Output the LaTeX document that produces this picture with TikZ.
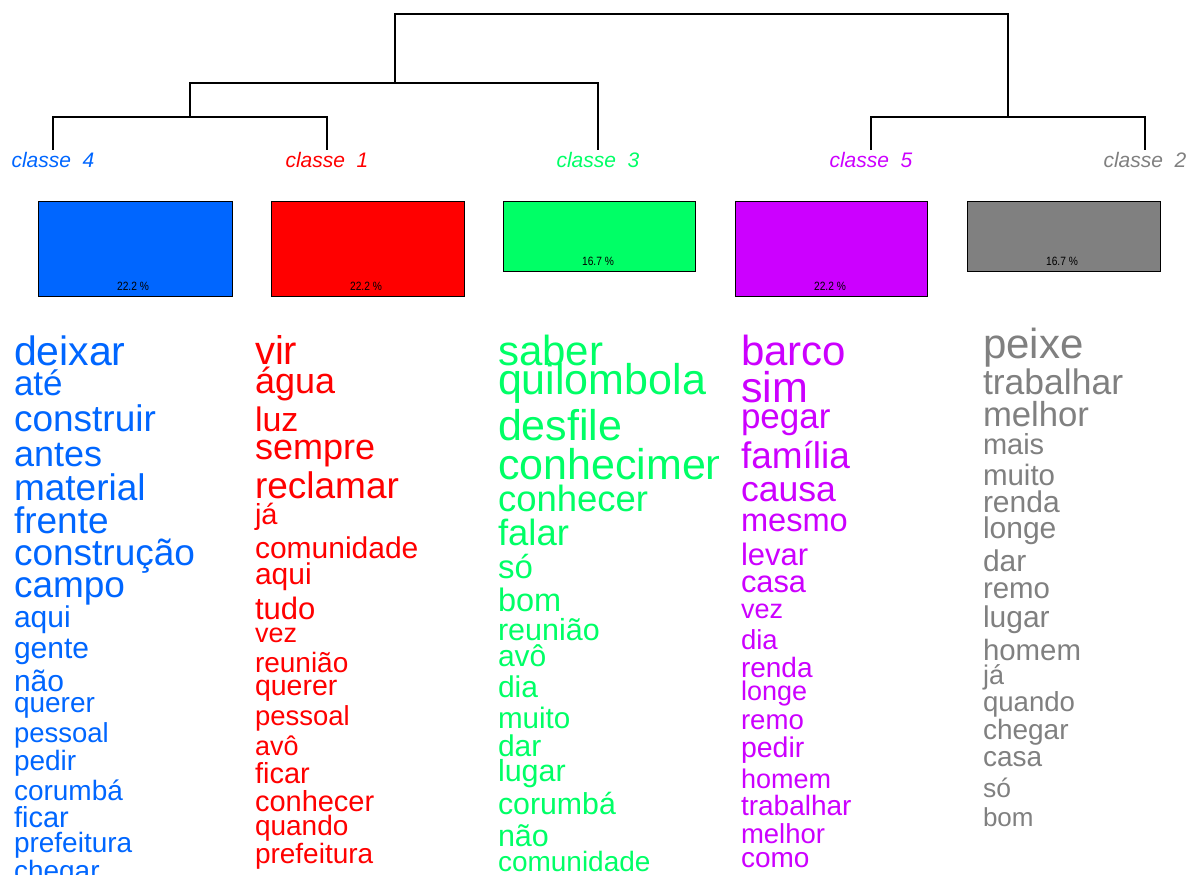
\documentclass[tikz,border=0pt]{standalone}
\usepackage{fontspec}
\setmainfont{Liberation Sans}
\definecolor{cblue}{HTML}{0066FF}
\definecolor{cred}{HTML}{FF0000}
\definecolor{cgreen}{HTML}{00FF66}
\definecolor{cpurple}{HTML}{CC00FF}
\definecolor{cgray}{HTML}{808080}
\newcommand{\fs}[1]{\fontsize{#1pt}{#1pt}\selectfont}
\tikzset{
  word/.style={anchor=base west, inner sep=0pt, outer sep=0pt},
  clslabel/.style={anchor=base, inner sep=0pt, font=\fs{21}\itshape},
  clsbox/.style={draw=black, line width=1.3pt, anchor=north west, inner sep=0pt},
  pct/.style={anchor=base, inner sep=0pt, font=\fs{12}, text=black, xscale=0.85},
  dendro/.style={draw=black, line width=1.3pt}
}
\begin{document}
\begin{tikzpicture}[x=1pt,y=-1pt]
\useasboundingbox (0,0) rectangle (1187,875);
\clip (0,0) rectangle (1187,875);
% dendrogram coordinates
\coordinate (top) at (395,14);
\coordinate (topR) at (1008,14);
\coordinate (l2L) at (190,83);
\coordinate (l2R) at (598,83);
\coordinate (l2M) at (395,83);
\coordinate (l3L) at (53,117);
\coordinate (l3R) at (327,117);
\coordinate (l3M) at (190,117);
\coordinate (r3L) at (871,117);
\coordinate (r3R) at (1145,117);
\coordinate (r3M) at (1008,117);
\coordinate (e4) at (53,150);
\coordinate (e1) at (327,150);
\coordinate (e3) at (598,150);
\coordinate (e5) at (871,150);
\coordinate (e2) at (1145,150);
\draw[dendro] (l2M) -- (top) -- (topR) -- (r3M);
\draw[dendro] (l3M) -- (l2L) -- (l2R) -- (e3);
\draw[dendro] (e4) -- (l3L) -- (l3R) -- (e1);
\draw[dendro] (e5) -- (r3L) -- (r3R) -- (e2);
% class labels
\node[clslabel, text=cblue] (lab4) at (53,167) {classe\ \ 4};
\node[clslabel, text=cred] (lab1) at (327,167) {classe\ \ 1};
\node[clslabel, text=cgreen] (lab3) at (598,167) {classe\ \ 3};
\node[clslabel, text=cpurple] (lab5) at (871,167) {classe\ \ 5};
\node[clslabel, text=cgray] (lab2) at (1145,167) {classe\ \ 2};
% boxes
\node[clsbox, fill=cblue, minimum width=194pt, minimum height=95pt] (b4) at (38,201) {};
\node[clsbox, fill=cred, minimum width=193pt, minimum height=95pt] (b1) at (271,201) {};
\node[clsbox, fill=cgreen, minimum width=192pt, minimum height=70pt] (b3) at (503,201) {};
\node[clsbox, fill=cpurple, minimum width=192pt, minimum height=95pt] (b5) at (735,201) {};
\node[clsbox, fill=cgray, minimum width=193pt, minimum height=70pt] (b2) at (967,201) {};
\node[pct] (p4) at (133,290) {22.2 \%};
\node[pct] (p1) at (366,290) {22.2 \%};
\node[pct] (p3) at (598,265) {16.7 \%};
\node[pct] (p5) at (830,290) {22.2 \%};
\node[pct] (p2) at (1062,265) {16.7 \%};
% class 4 words (blue)
\begin{scope}[every node/.style={word, text=cblue}]
\node[font=\fs{41}] (w4a) at (14,365) {deixar};
\node[font=\fs{35}] (w4b) at (14,395) {até};
\node[font=\fs{37}] (w4c) at (14,431) {construir};
\node[font=\fs{36}] (w4d) at (14,466) {antes};
\node[font=\fs{37}] (w4e) at (14,500) {material};
\node[font=\fs{37}] (w4f) at (14,533) {frente};
\node[font=\fs{37}] (w4g) at (14,565) {construção};
\node[font=\fs{37}] (w4h) at (14,597) {campo};
\node[font=\fs{30}] (w4i) at (14,627) {aqui};
\node[font=\fs{30}] (w4j) at (14,658) {gente};
\node[font=\fs{30}] (w4k) at (14,691) {não};
\node[font=\fs{28}] (w4l) at (14,712) {querer};
\node[font=\fs{27.5}] (w4m) at (14,742) {pessoal};
\node[font=\fs{28}] (w4n) at (14,770) {pedir};
\node[font=\fs{28}] (w4o) at (14,800) {corumbá};
\node[font=\fs{29}] (w4p) at (14,827) {ficar};
\node[font=\fs{28}] (w4q) at (14,852) {prefeitura};
\node[font=\fs{28}] (w4r) at (14,880) {chegar};
\end{scope}
% class 1 words (red)
\begin{scope}[every node/.style={word, text=cred}]
\node[font=\fs{40}] (w1a) at (255,364) {vir};
\node[font=\fs{36}] (w1b) at (255,393) {água};
\node[font=\fs{34}] (w1c) at (255,431) {luz};
\node[font=\fs{36}] (w1d) at (255,459) {sempre};
\node[font=\fs{37}] (w1e) at (255,498) {reclamar};
\node[font=\fs{29}] (w1f) at (255,524) {já};
\node[font=\fs{30}] (w1g) at (255,558) {comunidade};
\node[font=\fs{30}] (w1h) at (255,584) {aqui};
\node[font=\fs{31}] (w1i) at (255,619) {tudo};
\node[font=\fs{27}] (w1j) at (255,642) {vez};
\node[font=\fs{28}] (w1k) at (255,672) {reunião};
\node[font=\fs{28.5}] (w1l) at (255,695) {querer};
\node[font=\fs{27.5}] (w1m) at (255,725) {pessoal};
\node[font=\fs{27}] (w1n) at (255,755) {avô};
\node[font=\fs{29}] (w1o) at (255,783) {ficar};
\node[font=\fs{29}] (w1p) at (255,811) {conhecer};
\node[font=\fs{28}] (w1q) at (255,835) {quando};
\node[font=\fs{28}] (w1r) at (255,863) {prefeitura};
\end{scope}
% class 3 words (green)
\begin{scope}[every node/.style={word, text=cgreen}]
\node[font=\fs{42}] (w3a) at (498,365) {saber};
\node[font=\fs{43}] (w3b) at (498,394) {quilombola};
\node[font=\fs{43}] (w3c) at (498,440) {desfile};
\begin{scope}
\clip (480,440) rectangle (718,492);
\node[font=\fs{43}] (w3d) at (498,479) {conhecimento};
\end{scope}
\node[font=\fs{36.5}] (w3e) at (498,511) {conhecer};
\node[font=\fs{36.5}] (w3f) at (498,545) {falar};
\node[font=\fs{33}] (w3g) at (498,578) {só};
\node[font=\fs{32.5}] (w3h) at (498,611) {bom};
\node[font=\fs{30.5}] (w3i) at (498,640) {reunião};
\node[font=\fs{30}] (w3j) at (498,666) {avô};
\node[font=\fs{30}] (w3k) at (498,697) {dia};
\node[font=\fs{29.6}] (w3l) at (498,728) {muito};
\node[font=\fs{30}] (w3m) at (498,756) {dar};
\node[font=\fs{30.5}] (w3n) at (498,781) {lugar};
\node[font=\fs{30.3}] (w3o) at (498,814) {corumbá};
\node[font=\fs{30.5}] (w3p) at (498,846) {não};
\node[font=\fs{28}] (w3q) at (498,871) {comunidade};
\end{scope}
% class 5 words (purple)
\begin{scope}[every node/.style={word, text=cpurple}]
\node[font=\fs{42}] (w5a) at (741,365) {barco};
\node[font=\fs{43}] (w5b) at (741,402) {sim};
\node[font=\fs{35}] (w5c) at (741,428) {pegar};
\node[font=\fs{37}] (w5d) at (741,468) {família};
\node[font=\fs{35.6}] (w5e) at (741,501) {causa};
\node[font=\fs{32.6}] (w5f) at (741,531) {mesmo};
\node[font=\fs{31}] (w5g) at (741,565) {levar};
\node[font=\fs{30.8}] (w5h) at (741,592) {casa};
\node[font=\fs{27}] (w5i) at (741,618) {vez};
\node[font=\fs{27.5}] (w5j) at (741,649) {dia};
\node[font=\fs{28}] (w5k) at (741,677) {renda};
\node[font=\fs{27}] (w5l) at (741,700) {longe};
\node[font=\fs{27.6}] (w5m) at (741,729) {remo};
\node[font=\fs{28.5}] (w5n) at (741,757) {pedir};
\node[font=\fs{27}] (w5o) at (741,788) {homem};
\node[font=\fs{28}] (w5p) at (741,815) {trabalhar};
\node[font=\fs{27.5}] (w5q) at (741,843) {melhor};
\node[font=\fs{28}] (w5r) at (741,867) {como};
\end{scope}
% class 2 words (gray)
\begin{scope}[every node/.style={word, text=cgray}]
\node[font=\fs{42}] (w2a) at (983,358) {peixe};
\node[font=\fs{35.5}] (w2b) at (983,394) {trabalhar};
\node[font=\fs{34.7}] (w2c) at (983,426) {melhor};
\node[font=\fs{29}] (w2d) at (983,454) {mais};
\node[font=\fs{29.5}] (w2e) at (983,485) {muito};
\node[font=\fs{30}] (w2f) at (983,512) {renda};
\node[font=\fs{30}] (w2g) at (983,538) {longe};
\node[font=\fs{30}] (w2h) at (983,571) {dar};
\node[font=\fs{29.4}] (w2i) at (983,598) {remo};
\node[font=\fs{30}] (w2j) at (983,627) {lugar};
\node[font=\fs{29.4}] (w2k) at (983,660) {homem};
\node[font=\fs{27}] (w2l) at (983,684) {já};
\node[font=\fs{27.6}] (w2m) at (983,711) {quando};
\node[font=\fs{28}] (w2n) at (983,739) {chegar};
\node[font=\fs{28}] (w2o) at (983,766) {casa};
\node[font=\fs{26.5}] (w2p) at (983,797) {só};
\node[font=\fs{26}] (w2q) at (983,826) {bom};
\end{scope}
\end{tikzpicture}
\end{document}
